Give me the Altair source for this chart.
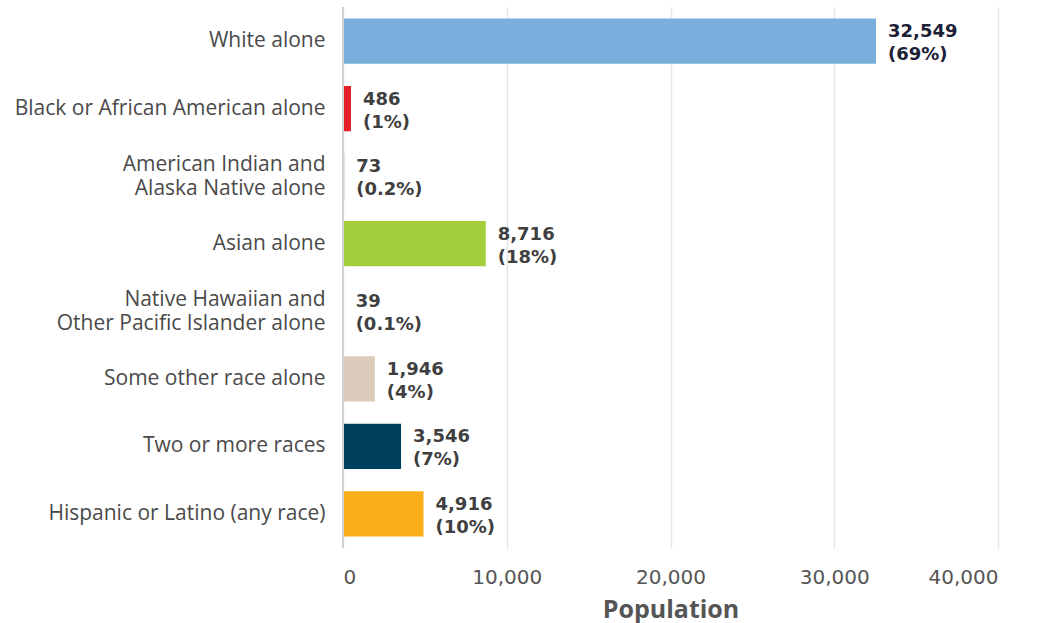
import altair as alt
import pandas as pd

categories = [
    "White alone",
    "Black or African American alone",
    "American Indian and|Alaska Native alone",
    "Asian alone",
    "Native Hawaiian and|Other Pacific Islander alone",
    "Some other race alone",
    "Two or more races",
    "Hispanic or Latino (any race)",
]
values = [32549, 486, 73, 8716, 39, 1946, 3546, 4916]
percents = ["69%", "1%", "0.2%", "18%", "0.1%", "4%", "7%", "10%"]
colors = ["#79AEDD", "#E41E26", "#8A8A8A", "#A3CD3B", "#8A8A8A", "#DDCCBC", "#00405F", "#FBAE19"]
label_colors = ["#1C2036", "#3F3F3F", "#3F3F3F", "#3F3F3F", "#3F3F3F", "#3F3F3F", "#3F3F3F", "#3F3F3F"]
x_ticks = [0, 10000, 20000, 30000, 40000]

df = pd.DataFrame({
    "cat": categories,
    "value": values,
    "vlabel": [f"{v:,}" for v in values],
    "plabel": [f"({p})" for p in percents],
    "color": colors,
    "lcolor": label_colors,
})

FONT = "Open Sans"
NUMFONT = "DejaVu Sans"

y_enc = alt.Y(
    "cat:N",
    sort=categories,
    title=None,
    scale=alt.Scale(paddingInner=0.33, paddingOuter=0.17),
    axis=alt.Axis(
        labelExpr="split(datum.label, '|')",
        labelFont=FONT,
        labelFontSize=21,
        labelColor="#4A4A4A",
        labelLineHeight=24,
        labelPadding=18,
        labelOffset=alt.ExprRef("indexof(datum.value, '|') >= 0 ? -11 : 0"),
        ticks=False,
        domain=False,
        labelLimit=400,
    ),
)

x_enc = alt.X(
    "value:Q",
    title="Population",
    scale=alt.Scale(domain=[0, 40000], nice=False),
    axis=alt.Axis(
        values=x_ticks,
        labelExpr="format(datum.value, ',')",
        labelFont=NUMFONT,
        labelFontSize=20,
        labelColor="#555555",
        labelPadding=19,
        titleFont=FONT,
        titleFontSize=25,
        titleFontWeight="bold",
        titleColor="#555555",
        titlePadding=10,
        ticks=False,
        domain=False,
        grid=True,
        gridColor="#E6E6E6",
        gridWidth=1.5,
    ),
)

bars = alt.Chart(df).mark_bar().encode(
    x=x_enc,
    y=y_enc,
    color=alt.Color("color:N", scale=None),
)

zero_line = alt.Chart(df).mark_rule(color="#CFCFCF", strokeWidth=2).encode(
    x=alt.datum(0),
)

text_style = dict(
    align="left",
    baseline="middle",
    dx=12,
    font=NUMFONT,
    fontSize=18,
    fontWeight="bold",
)

value_text = alt.Chart(df).mark_text(dy=-9, **text_style).encode(
    x=x_enc,
    y=y_enc,
    text="vlabel:N",
    color=alt.Color("lcolor:N", scale=None),
)

pct_text = alt.Chart(df).mark_text(dy=14, **text_style).encode(
    x=x_enc,
    y=y_enc,
    text="plabel:N",
    color=alt.Color("lcolor:N", scale=None),
)

chart = alt.layer(bars, zero_line, value_text, pct_text).properties(
    width=655,
    height=541,
    autosize=alt.AutoSizeParams(type="none"),
    padding={"left": 343, "top": 7, "right": 39, "bottom": 75},
).configure_view(stroke=None)

chart.save("out.html", embed_options={"renderer": "svg", "actions": False})
